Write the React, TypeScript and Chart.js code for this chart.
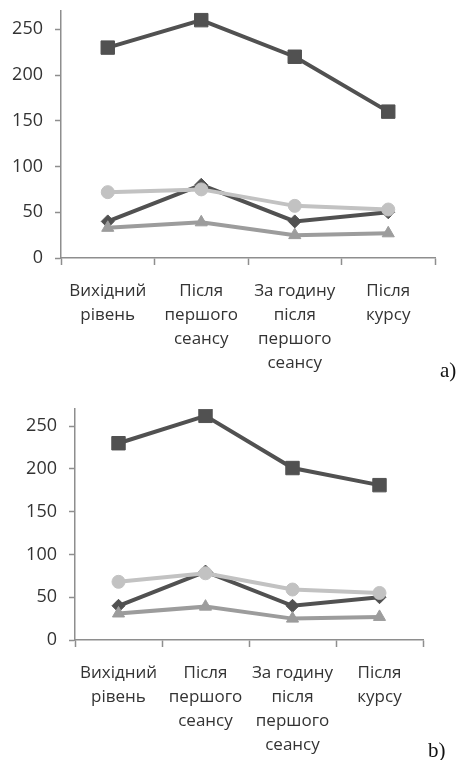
import React, { useEffect, useRef } from 'react';
import { Chart, registerables } from 'chart.js';
Chart.register(...registerables);

const categories: string[][] = [
  ['Вихідний', 'рівень'],
  ['Після', 'першого', 'сеансу'],
  ['За годину', 'після', 'першого', 'сеансу'],
  ['Після', 'курсу'],
];

const aSquare = [230, 260, 220, 160];
const aDiamond = [40, 80, 40, 50];
const aCircle = [72, 75, 57, 53];
const aTriangle = [33, 39, 25, 27];

const bSquare = [230, 262, 201, 181];
const bDiamond = [40, 80, 40, 50];
const bCircle = [68, 78, 59, 55];
const bTriangle = [31, 39, 25, 27];

const yMin = 0;
const yMax = 270;
const yStep = 50;

const DARK = '#515151';
const MID = '#9c9c9c';
const LIGHT = '#c2c2c2';
const AXIS = '#8e8e8e';
const TEXT = '#333333';

type Props = {
  square: number[];
  diamond: number[];
  circle: number[];
  triangle: number[];
  yWidth: number;
  xHeight: number;
  padTop: number;
  padRight: number;
  width: number;
  height: number;
  top: number;
};

function LineChart(p: Props) {
  const ref = useRef<HTMLCanvasElement | null>(null);
  useEffect(() => {
    if (!ref.current) return;
    const mk = (data: number[], color: string, style: any, radius: number, order: number) => ({
      data,
      borderColor: color,
      backgroundColor: color,
      borderWidth: 4,
      pointStyle: style,
      pointRadius: radius,
      pointBorderWidth: 1,
      pointBorderColor: color,
      pointBackgroundColor: color,
      tension: 0,
      order,
    });
    const chart = new Chart(ref.current, {
      type: 'line',
      data: {
        labels: categories,
        datasets: [
          mk(p.circle, LIGHT, 'circle', 6.5, 1),
          mk(p.triangle, MID, 'triangle', 7, 2),
          mk(p.square, DARK, 'rect', 9.5, 3),
          mk(p.diamond, DARK, 'rectRot', 6.5, 4),
        ],
      },
      options: {
        animation: false,
        responsive: false,
        maintainAspectRatio: false,
        layout: { padding: { top: p.padTop, right: p.padRight, left: 0, bottom: 0 } },
        plugins: { legend: { display: false }, tooltip: { enabled: false } },
        scales: {
          x: {
            type: 'category',
            offset: true,
            afterFit: (s: any) => {
              s.height = p.xHeight;
              s.paddingLeft = 0;
              s.paddingRight = 0;
            },
            grid: {
              offset: true,
              drawOnChartArea: false,
              drawTicks: true,
              tickLength: 7,
              tickWidth: 1.5,
              tickColor: AXIS,
            },
            border: { display: true, color: AXIS, width: 1.5 },
            ticks: {
              autoSkip: false,
              maxRotation: 0,
              minRotation: 0,
              padding: 14,
              color: TEXT,
              font: { family: 'Open Sans', size: 17, lineHeight: 24 / 17 },
            },
          },
          y: {
            min: yMin,
            max: yMax,
            afterFit: (s: any) => {
              s.width = p.yWidth;
              s.paddingTop = 0;
              s.paddingBottom = 0;
            },
            grid: {
              drawOnChartArea: false,
              drawTicks: true,
              tickLength: 6,
              tickWidth: 1.5,
              tickColor: AXIS,
            },
            border: { display: true, color: AXIS, width: 1.5 },
            ticks: {
              stepSize: yStep,
              includeBounds: false,
              padding: 12,
              color: TEXT,
              font: { family: 'Open Sans', size: 18 },
            },
          },
        },
      },
    } as any);
    return () => chart.destroy();
  }, []);
  return (
    <canvas
      ref={ref}
      width={p.width}
      height={p.height}
      style={{ position: 'absolute', left: 0, top: p.top, width: p.width, height: p.height }}
    />
  );
}

export default function App() {
  return (
    <div style={{ position: 'absolute', left: 0, top: 0, width: 461, height: 760, background: '#fff', overflow: 'hidden' }}>
      <LineChart
        square={aSquare}
        diamond={aDiamond}
        circle={aCircle}
        triangle={aTriangle}
        yWidth={61}
        xHeight={127}
        padTop={11}
        padRight={26}
        width={461}
        height={385}
        top={0}
      />
      <LineChart
        square={bSquare}
        diamond={bDiamond}
        circle={bCircle}
        triangle={bTriangle}
        yWidth={75}
        xHeight={120}
        padTop={19}
        padRight={38}
        width={461}
        height={370}
        top={390}
      />
      <div style={{ position: 'absolute', left: 440, top: 357, fontFamily: '"Liberation Serif", "Times New Roman", serif', fontSize: 21, color: '#111', lineHeight: '26px' }}>a)</div>
      <div style={{ position: 'absolute', left: 428, top: 737, fontFamily: '"Liberation Serif", "Times New Roman", serif', fontSize: 21, color: '#111', lineHeight: '26px' }}>b)</div>
    </div>
  );
}
